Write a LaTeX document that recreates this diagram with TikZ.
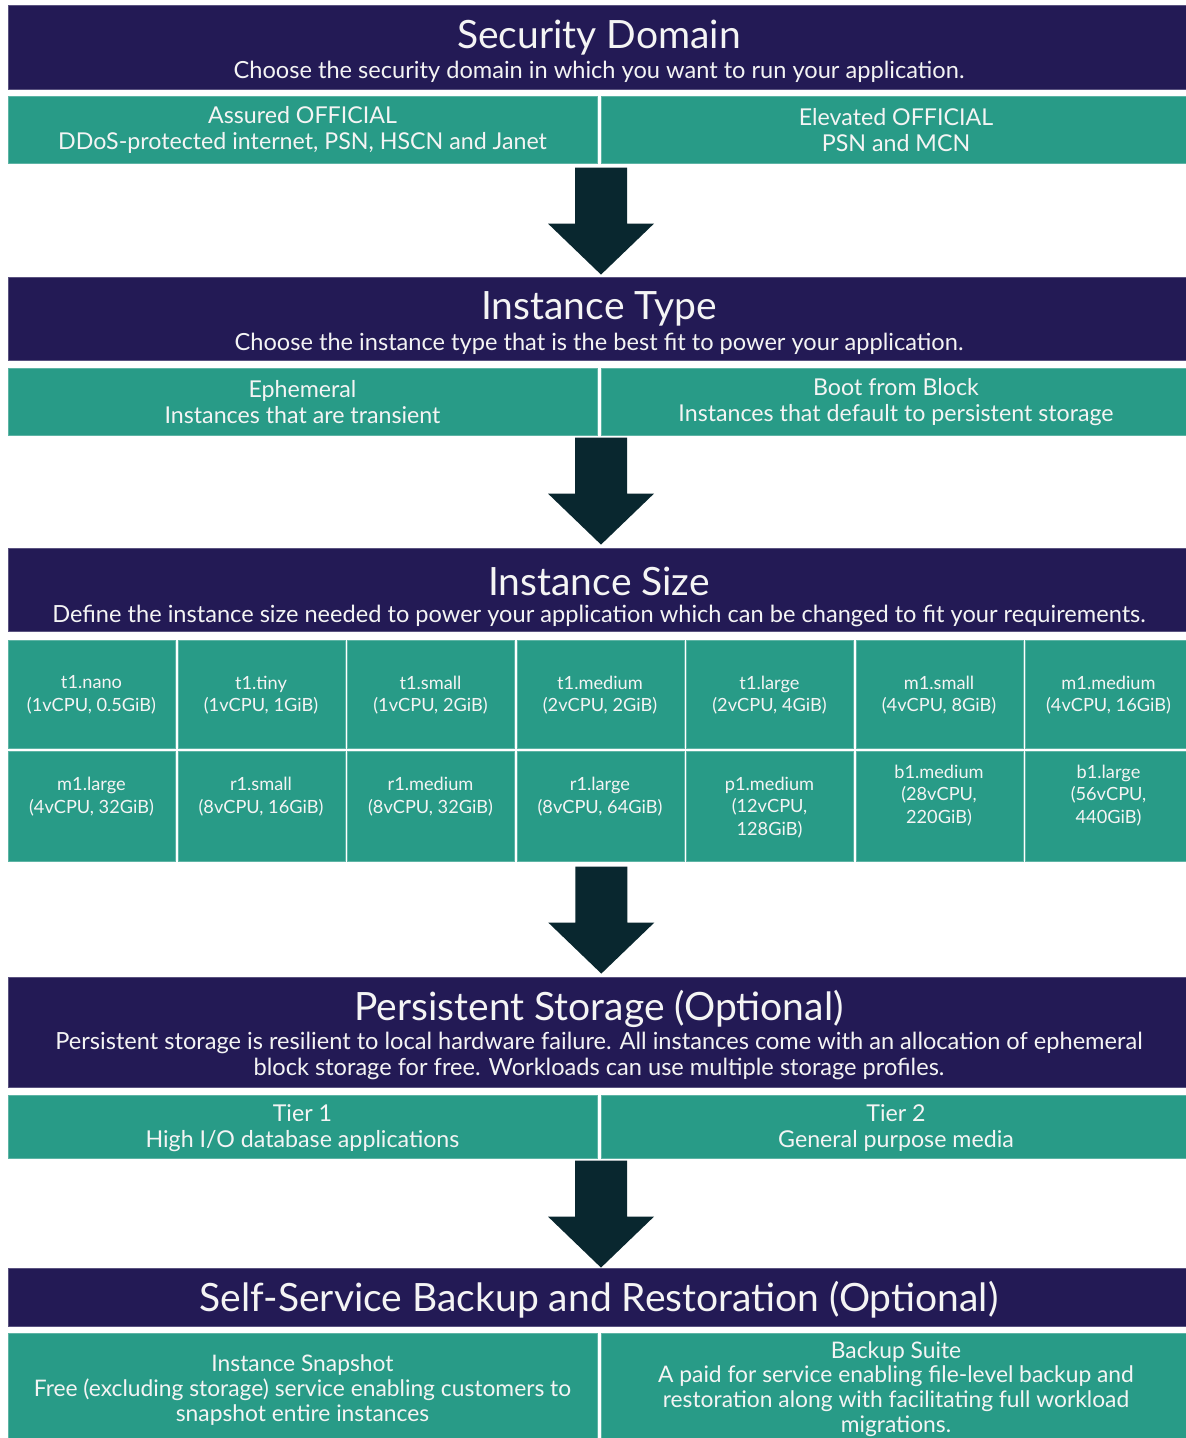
\documentclass[tikz,border=0pt]{standalone}
\usepackage{fontspec}
\setmainfont{Lato}
\usetikzlibrary{calc}
\definecolor{bandnavy}{HTML}{231A55}
\definecolor{cellteal}{HTML}{289B87}
\definecolor{arrowdark}{HTML}{09272F}
\definecolor{txtwhite}{HTML}{F4F4F4}

\tikzset{
  band/.style={fill=bandnavy, draw=bandnavy!75!white, line width=0.6pt,
    anchor=north west, inner sep=0pt},
  cell/.style={fill=cellteal, draw=cellteal!75!white, line width=0.6pt,
    anchor=north west, inner sep=0pt},
  title/.style={text=txtwhite, font=\fontsize{39}{43}\selectfont, inner sep=0pt, yshift=-2pt},
  subtitle/.style={text=txtwhite, font=\fontsize{23.6}{26}\selectfont, align=center, inner sep=0pt, yshift=-2pt},
  body/.style={text=txtwhite, font=\fontsize{23.2}{25.8}\selectfont, align=center, inner sep=0pt, yshift=-2pt},
  bodytight/.style={body, font=\fontsize{22.8}{24.8}\selectfont},
  small/.style={text=txtwhite, font=\fontsize{18.2}{22.5}\selectfont, align=center, inner sep=0pt, yshift=-1pt},
  downarrow/.pic={
    \fill[arrowdark] (-26,0) -- (26,0) -- (26,56) -- (53,56) -- (0,107)
      -- (-53,56) -- (-26,56) -- cycle;
  }
}

\begin{document}
\begin{tikzpicture}[x=1pt,y=-1pt]
\clip (0,0) rectangle (1186,1438);
\fill[white] (0,0) rectangle (1186,1438);

% ---------- Security domain ----------
\node[band, minimum width=1183, minimum height=84] (sd) at (8,5) {};
\node[title] (sdT) at (599,36) {Security Domain};
\node[subtitle] (sdS) at (599,70) {Choose the security domain in which you want to run your application.};
\node[cell, minimum width=589, minimum height=67] (sdA) at (8,96) {};
\node[cell, minimum width=590, minimum height=67] (sdB) at (601,96) {};
\node[body] at (302.5,128) {Assured OFFICIAL\\DDoS-protected internet, PSN, HSCN and Janet};
\node[body] at (896,128) {Elevated OFFICIAL\\PSN and MCN};

% ---------- Instance type ----------
\node[band, minimum width=1183, minimum height=83] (it) at (8,277) {};
\node[title] (itT) at (599,307) {Instance Type};
\node[subtitle] (itS) at (599,342) {Choose the instance type that is the best fit to power your application.};
\node[cell, minimum width=589, minimum height=67] (itA) at (8,368) {};
\node[cell, minimum width=590, minimum height=67] (itB) at (601,368) {};
\node[body] at (302.5,400) {Ephemeral\\Instances that are transient};
\node[body] at (896,400) {Boot from Block\\Instances that default to persistent storage};

% ---------- Instance size ----------
\node[band, minimum width=1183, minimum height=83] (is) at (8,548) {};
\node[title] (isT) at (599,579) {Instance Size};
\node[subtitle] (isS) at (599,614) {Define the instance size needed to power your application which can be changed to fit your requirements.};

\foreach \i/\name/\spec in {0/t1.nano/{1vCPU, 0.5GiB}, 1/t1.tiny/{1vCPU, 1GiB},
    2/t1.small/{1vCPU, 2GiB}, 3/t1.medium/{2vCPU, 2GiB}, 4/t1.large/{2vCPU, 4GiB},
    5/m1.small/{4vCPU, 8GiB}, 6/m1.medium/{4vCPU, 16GiB}} {
  \node[cell, minimum width=167, minimum height=108] (ga\i) at ({8+169.5*\i},640) {};
  \node[small] at ({91.5+169.5*\i},694) {\name\\(\spec)};
}
\foreach \i/\name/\spec/\yc in {0/m1.large/{4vCPU, 32GiB}/795.5, 1/r1.small/{8vCPU, 16GiB}/795.5,
    2/r1.medium/{8vCPU, 32GiB}/795.5, 3/r1.large/{8vCPU, 64GiB}/795.5,
    4/p1.medium/{12vCPU,\\128GiB}/806.5, 5/b1.medium/{28vCPU,\\220GiB}/794.5,
    6/b1.large/{56vCPU,\\440GiB}/794.5} {
  \node[cell, minimum width=167, minimum height=110] (gb\i) at ({8+169.5*\i},751) {};
  \node[small] at ({91.5+169.5*\i},\yc) {\name\\(\spec)};
}

% ---------- Persistent storage ----------
\node[band, minimum width=1183, minimum height=110] (ps) at (8,977) {};
\node[title] (psT) at (599,1007) {Persistent Storage (Optional)};
\node[subtitle] (psS) at (599,1054) {Persistent storage is resilient to local hardware failure. All instances come with an allocation of ephemeral\\block storage for free. Workloads can use multiple storage profiles.};
\node[cell, minimum width=589, minimum height=63] (psA) at (8,1095) {};
\node[cell, minimum width=590, minimum height=63] (psB) at (601,1095) {};
\node[body] at (302.5,1126) {Tier 1\\High I/O database applications};
\node[body] at (896,1126) {Tier 2\\General purpose media};

% ---------- Backup and restoration ----------
\node[band, minimum width=1183, minimum height=58] (br) at (8,1268) {};
\node[title] (brT) at (599,1298) {Self-Service Backup and Restoration (Optional)};
\node[cell, minimum width=589, minimum height=120] (brA) at (8,1333) {};
\node[cell, minimum width=590, minimum height=120] (brB) at (601,1333) {};
\node[bodytight] at (302.5,1388) {Instance Snapshot\\Free (excluding storage) service enabling customers to\\snapshot entire instances};
\node[bodytight] at (896,1387) {Backup Suite\\A paid for service enabling file-level backup and\\restoration along with facilitating full workload\\migrations.};

% ---------- Step arrows between the sections ----------
\coordinate (a1) at ($(sdB.south west)+(0,4)$);
\coordinate (a2) at ($(itB.south west)+(0,2)$);
\coordinate (a3) at ($(gb3.south)+(0,5)$);
\coordinate (a4) at ($(psB.south west)+(0,2)$);
\pic at (a1) {downarrow};
\pic at (a2) {downarrow};
\pic at ([xshift=1pt]a3) {downarrow};
\pic at (a4) {downarrow};
\end{tikzpicture}
\end{document}
